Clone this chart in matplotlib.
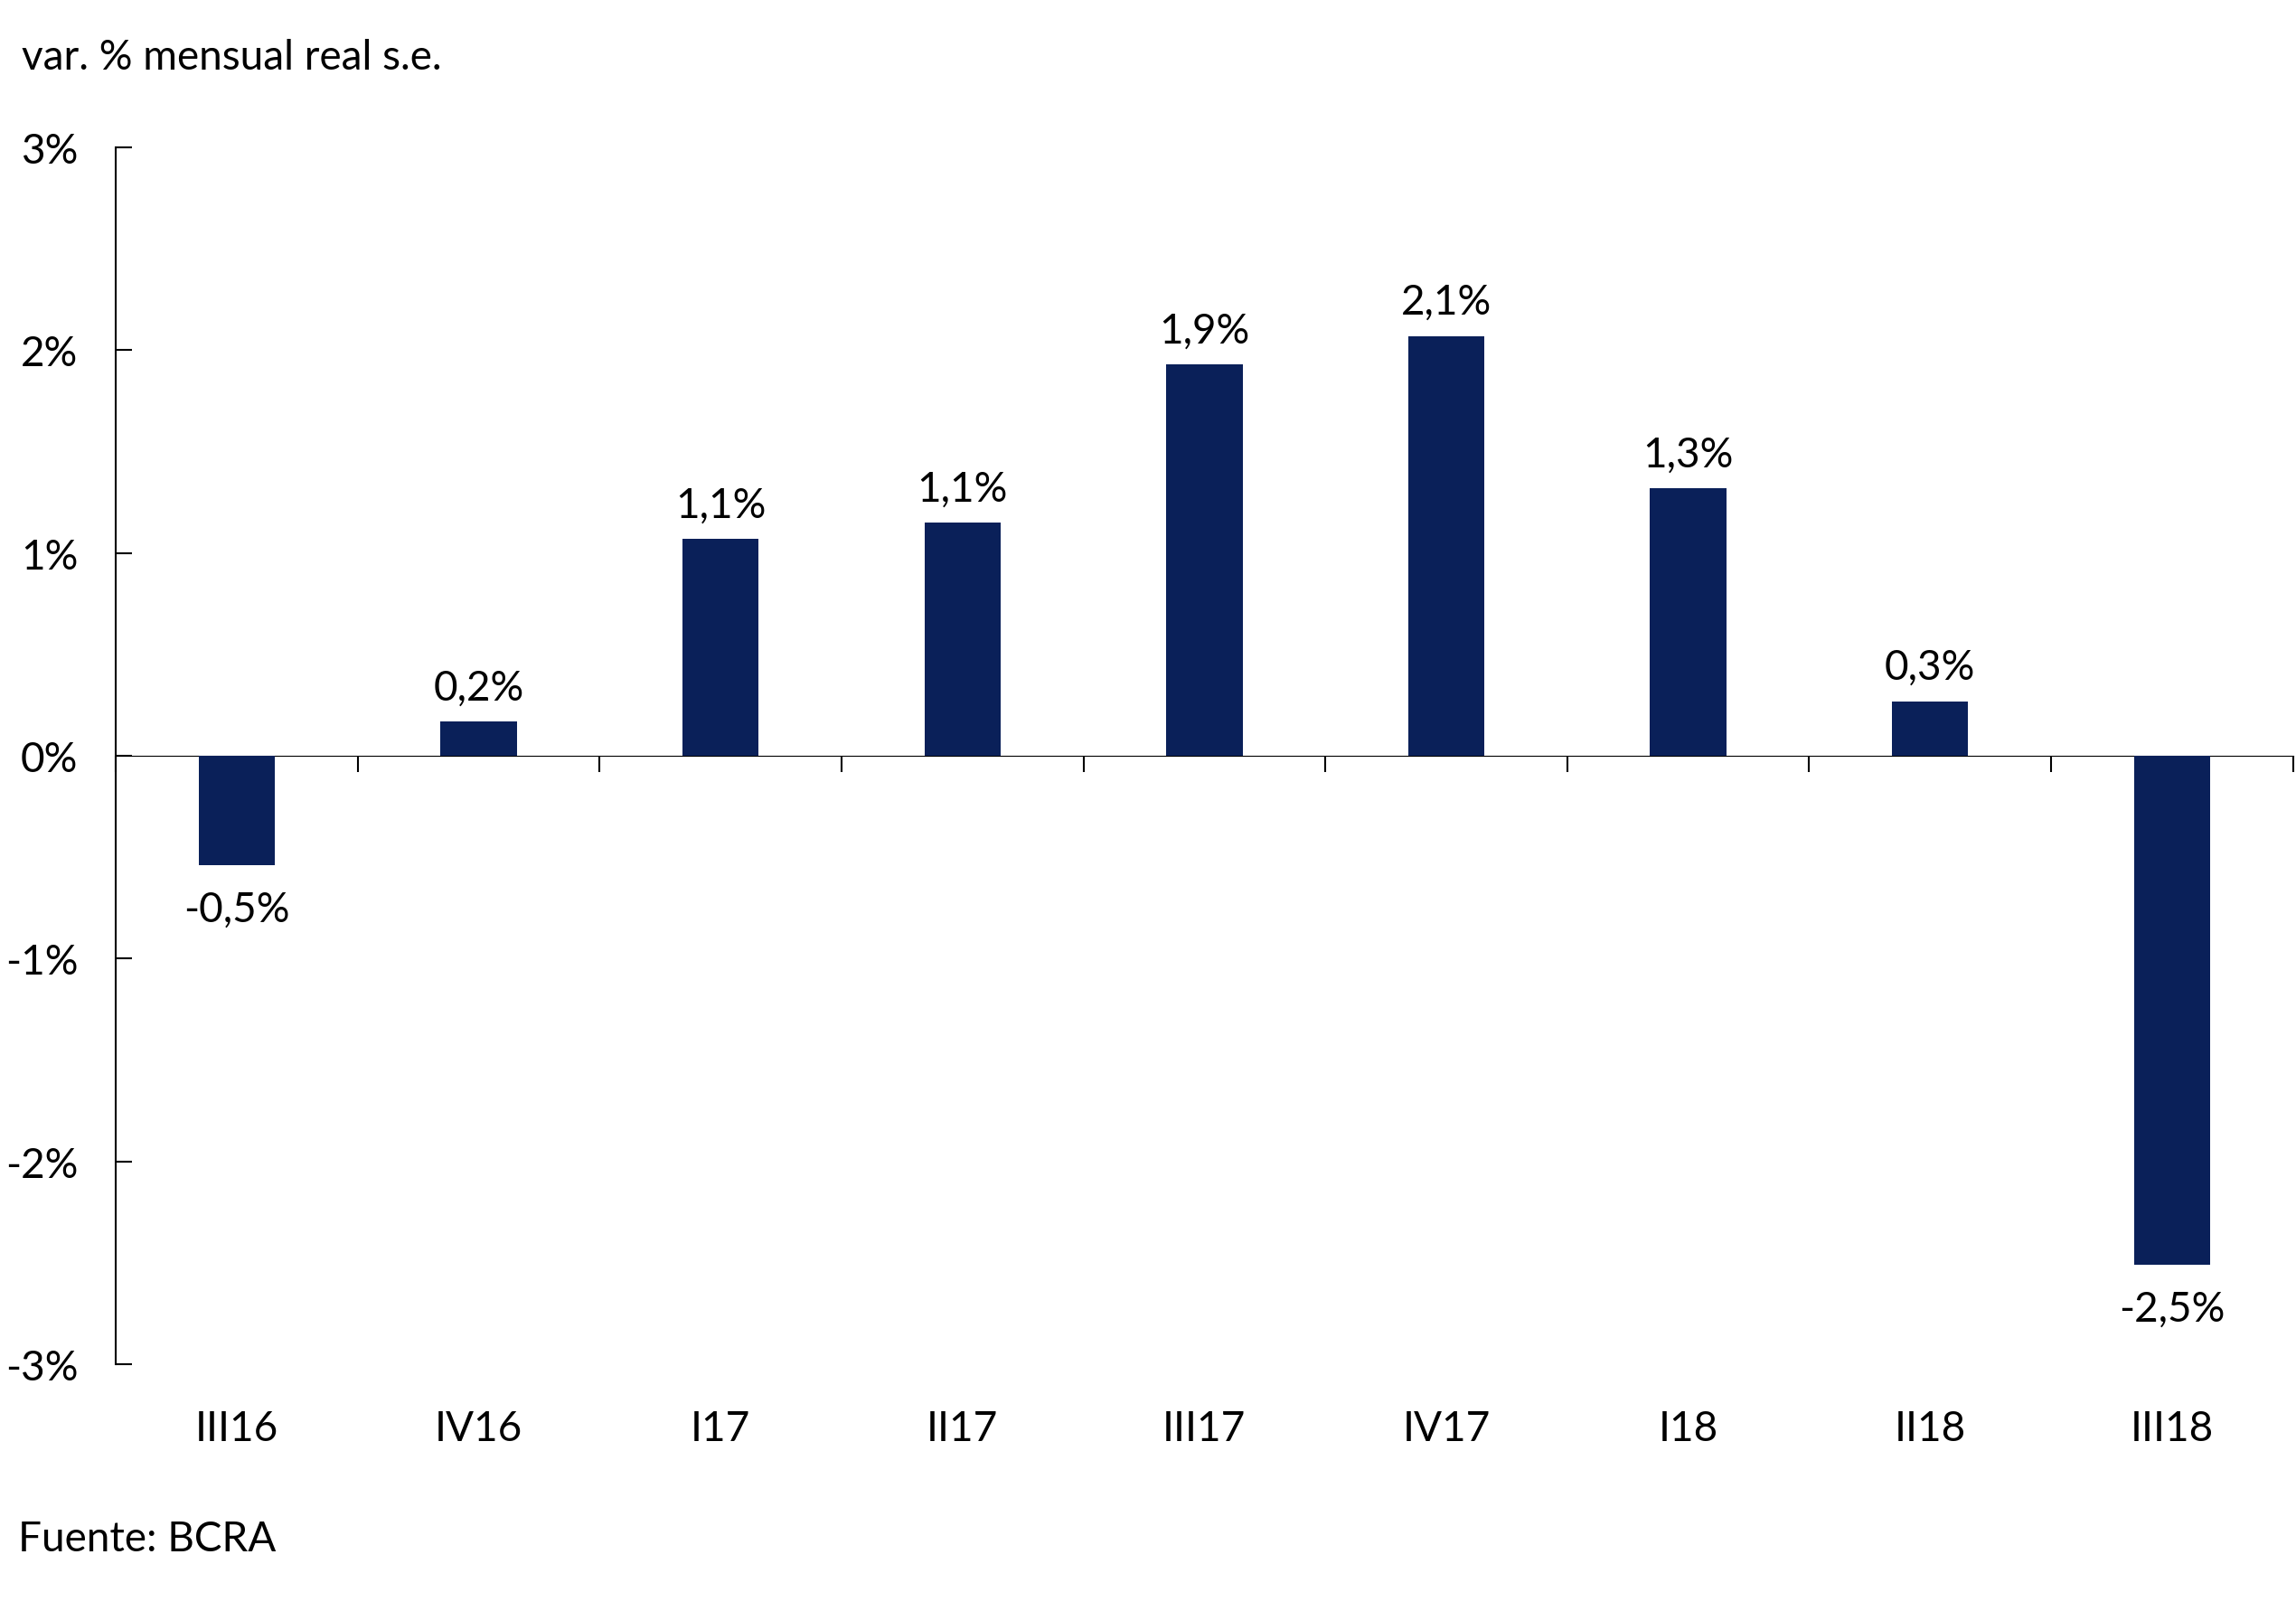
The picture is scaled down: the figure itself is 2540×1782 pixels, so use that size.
import matplotlib
matplotlib.use("Agg")
import matplotlib.pyplot as plt

# ---- data ----------------------------------------------------------------
quarters = ["III16", "IV16", "I17", "II17", "III17", "IV17", "I18", "II18", "III18"]
values = [-0.54, 0.17, 1.07, 1.15, 1.93, 2.07, 1.32, 0.27, -2.51]
value_labels = ["-0,5%", "0,2%", "1,1%", "1,1%", "1,9%", "2,1%", "1,3%", "0,3%", "-2,5%"]
y_ticks = [-3, -2, -1, 0, 1, 2, 3]
y_tick_labels = ["-3%", "-2%", "-1%", "0%", "1%", "2%", "3%"]

BAR_COLOR = "#0a2059"
FS = 33
plt.rcParams["font.family"] = ["Lato", "DejaVu Sans"]

fig = plt.figure(figsize=(25.4, 17.83), dpi=100)
ax = fig.add_axes([0.0504, 0.153, 0.9483, 0.755])

x = list(range(len(quarters)))
bars = ax.bar(x, values, width=0.315, color=BAR_COLOR, zorder=3)

# value labels: above positive bars, below negative ones
for bar, val, lab in zip(bars, values, value_labels):
    offset = 12 if val >= 0 else -20
    ax.annotate(lab, (bar.get_x() + bar.get_width() / 2, val),
                xytext=(0, offset), textcoords="offset points",
                ha="center", va="bottom" if val >= 0 else "top", fontsize=FS)

ax.set_xlim(-0.5, len(quarters) - 0.5)
ax.set_ylim(-3, 3)

# y axis: ticks point inward
ax.set_yticks(y_ticks)
ax.set_yticklabels(y_tick_labels)
ax.tick_params(axis="y", direction="in", length=13, width=1.5, pad=30, labelsize=FS)

# x labels sit below the plot, without tick marks
ax.set_xticks(x)
ax.set_xticklabels(quarters)
ax.tick_params(axis="x", length=0, pad=36, labelsize=FS)

for side in ["top", "right", "bottom"]:
    ax.spines[side].set_visible(False)
ax.spines["left"].set_linewidth(1.5)

# zero line with upward ticks at the category boundaries
zero_axis = ax.secondary_xaxis(0.5)
zero_axis.set_xticks([i - 0.5 for i in range(len(quarters) + 1)])
zero_axis.set_xticklabels([])
zero_axis.tick_params(direction="in", length=13, width=1.5)
zero_axis.spines["bottom"].set_linewidth(2)

fig.text(0.0096, 0.964, "var. % mensual real s.e.", fontsize=FS, va="center", ha="left")
fig.text(0.008, 0.045, "Fuente: BCRA", fontsize=FS, va="center", ha="left")

fig.savefig("out.png", dpi=100)
